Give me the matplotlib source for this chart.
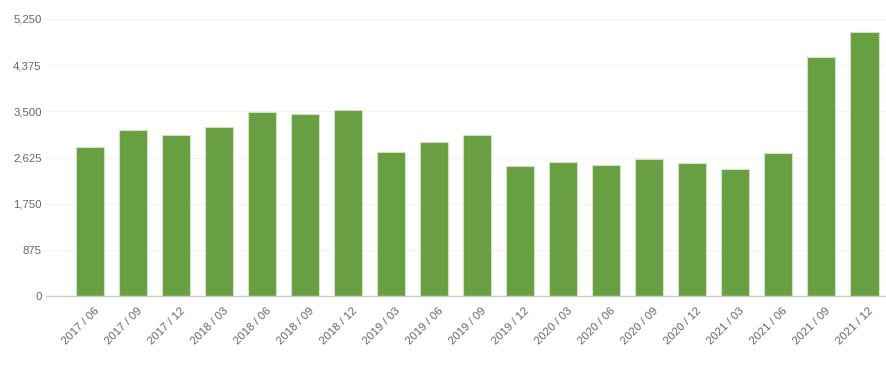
import matplotlib
matplotlib.use("Agg")
import matplotlib.pyplot as plt
import matplotlib.transforms as mtransforms

quarters = ["2017 / 06", "2017 / 09", "2017 / 12", "2018 / 03", "2018 / 06",
            "2018 / 09", "2018 / 12", "2019 / 03", "2019 / 06", "2019 / 09",
            "2019 / 12", "2020 / 03", "2020 / 06", "2020 / 09", "2020 / 12",
            "2021 / 03", "2021 / 06", "2021 / 09", "2021 / 12"]
values = [2824, 3146, 3052, 3197, 3481, 3450, 3519, 2736, 2913, 3052,
          2464, 2534, 2489, 2603, 2515, 2401, 2710, 4530, 4998]
y_ticks = [0, 875, 1750, 2625, 3500, 4375, 5250]

plt.rcParams['font.family'] = ['Liberation Sans', 'DejaVu Sans']

fig = plt.figure(figsize=(8.87, 3.67), dpi=100)
ax = fig.add_axes([45.7 / 887, 1 - 296 / 367, 1 - 45.7 / 887, 277 / 367])

x = list(range(len(values)))
ax.bar(x, values, width=0.665, color='#689f43', edgecolor='#cfe3c2', linewidth=0.8, zorder=2)

ax.set_xlim(-1.03, len(values) - 0.47)
ax.set_ylim(0, 5250)
ax.set_yticks(y_ticks)
ax.set_yticklabels([f"{v:,}" for v in y_ticks])
ax.grid(axis='y', color='#f2f2f2', linewidth=0.8, zorder=0)

# rotated category labels, drawn as text so they can hang below/right of each bar
ax.set_xticks(x)
ax.set_xticklabels([])
offset = mtransforms.ScaledTranslation(4 / 100, -10 / 100, fig.dpi_scale_trans)
trans = ax.get_xaxis_transform() + offset
for xi, q in zip(x, quarters):
    ax.text(xi, 0, q, transform=trans, rotation=45, ha='right', va='top',
            rotation_mode='anchor', fontsize=8.2, color='#666666')

ax.tick_params(axis='both', length=0, labelsize=8.2, labelcolor='#666666')
ax.tick_params(axis='y', pad=3)

for side in ['top', 'right', 'left']:
    ax.spines[side].set_visible(False)
ax.spines['bottom'].set_color('#cccccc')
ax.spines['bottom'].set_linewidth(1.0)

fig.savefig('out.png', dpi=100)
